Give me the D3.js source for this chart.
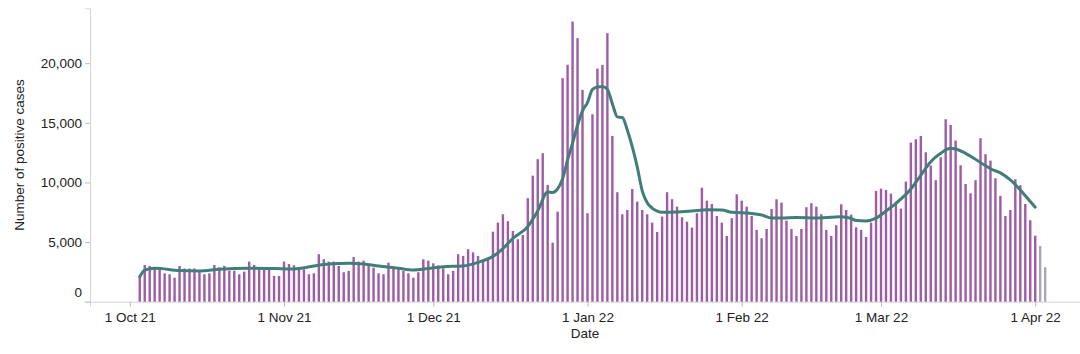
<!DOCTYPE html>
<html>
<head>
<meta charset="utf-8">
<script src="https://cdn.jsdelivr.net/npm/d3@7"></script>
<style>
  body { margin: 0; background: #fff; }
  text { font-family: "Liberation Sans", Arial, sans-serif; }
</style>
</head>
<body>
<div id="chart"></div>
<script>
// Data
const firstDate = "2021-10-03";
const dailyCases = [
  2100, 3080, 3000, 2800, 2660, 2380, 2300, 2010, 3000, 2780, 2780, 2780, 2520, 2300, 2380, 3080,
  2880, 3000, 2600, 2600, 2300, 2520, 3360, 3080, 2800, 2800, 2720, 2160, 2160, 3360, 3160,
  3050, 2720, 2720, 2300, 2380, 3980, 3560, 3360, 3360, 3000, 2470, 2580, 3750, 3360, 3440,
  3050, 2850, 2380, 2300, 3270, 2800, 2740, 2580, 2380, 2010, 2470, 3560, 3440, 3220, 3050,
  2800, 2300, 2580, 3980, 3840, 4400, 4140, 3840, 3360, 3500, 5870, 6630, 7330, 6750, 5930,
  5240, 5590, 8680, 10570, 11950, 12450, 9790, 4950, 7550, 18740, 19860, 23490, 22100, 17760,
  7420, 15720, 19550, 19860, 22520, 13900, 9180, 7330, 7690, 9450, 8390, 7690, 7330, 6630, 5850,
  7130, 9180, 8590, 7970, 7080, 6710, 6210, 7420, 9560, 8470, 8190, 7190, 6630, 5510, 7000,
  9010, 8470, 7970, 7190, 6020, 5320, 6100, 7780, 8590, 8310, 6800, 6100, 5510, 6100, 7920,
  8260, 7970, 7330, 6020, 5510, 6410, 8170, 7690, 7300, 6240, 6020, 5430, 6630, 9290, 9480,
  9370, 9060, 8310, 7800, 10070, 13340, 13620, 13900, 12530, 11410, 10190, 12110, 15300, 14820,
  13510, 11440, 9870, 9090, 10190, 13710, 12370, 11830, 10350, 8870, 7190, 7690, 10270, 9770,
  8200, 6830, 5540,
  4670, 2890
];
// the last days are still incomplete and drawn in grey
const provisionalDays = 2;

const avgDates = [
  "2021-10-03", "2021-10-04", "2021-10-06", "2021-10-11", "2021-10-15", "2021-10-19", "2021-10-25",
  "2021-10-30", "2021-11-03", "2021-11-07", "2021-11-10", "2021-11-14", "2021-11-17", "2021-11-20",
  "2021-11-24", "2021-11-27", "2021-11-30", "2021-12-03", "2021-12-07", "2021-12-10", "2021-12-13",
  "2021-12-15", "2021-12-17", "2021-12-20", "2021-12-22", "2021-12-24", "2021-12-25", "2021-12-26",
  "2021-12-27", "2021-12-28", "2021-12-29", "2021-12-30", "2021-12-31", "2022-01-01", "2022-01-02",
  "2022-01-03", "2022-01-04", "2022-01-05", "2022-01-06", "2022-01-07", "2022-01-08", "2022-01-09",
  "2022-01-10", "2022-01-11", "2022-01-12", "2022-01-13", "2022-01-14", "2022-01-15", "2022-01-16",
  "2022-01-19", "2022-01-22", "2022-01-25", "2022-01-28", "2022-01-30", "2022-02-03", "2022-02-05",
  "2022-02-07", "2022-02-09", "2022-02-12", "2022-02-16", "2022-02-19", "2022-02-21", "2022-02-23",
  "2022-02-24", "2022-02-26", "2022-02-28", "2022-03-02", "2022-03-04", "2022-03-07", "2022-03-09",
  "2022-03-11", "2022-03-13", "2022-03-15", "2022-03-16", "2022-03-19", "2022-03-22", "2022-03-23",
  "2022-03-25", "2022-03-27", "2022-03-29", "2022-03-31", "2022-04-01"
];
const avgCases = [
  2100, 2650, 2800, 2620, 2580, 2720, 2800,
  2780, 2750, 2990, 3160, 3220, 3160, 3000,
  2800, 2660, 2790, 2930, 3000, 3300, 3800,
  4450, 5300, 6300, 7600, 9200, 9150, 9450,
  10300, 11900, 13300, 14800, 16000, 16700, 17800,
  18000, 18050, 17800, 16600, 15500, 15450, 14400,
  13000, 11300, 9300, 8300, 7850, 7600, 7500,
  7530, 7610, 7700, 7680, 7500, 7400, 7270,
  7020, 7020, 7060, 7020, 7080, 7130, 6980,
  6800, 6770, 7000, 7600, 8250, 9450, 10600,
  11740, 12450, 12870, 12800, 12200, 11400, 11150,
  10800, 10210, 9370, 8400, 7920
];

const yTickValues = [0, 5000, 10000, 15000, 20000];
const xTickDates = ["2021-10-01", "2021-11-01", "2021-12-01", "2022-01-01", "2022-02-01", "2022-03-01", "2022-04-01"];
const xDomainDates = ["2021-09-23", "2022-04-10"];
const yMax = 24600;

function draw() {
  const parse = d3.utcParse("%Y-%m-%d");
  const start = parse(firstDate);
  const bars = dailyCases.map((v, i) => ({
    date: d3.utcDay.offset(start, i),
    value: v,
    provisional: i >= dailyCases.length - provisionalDays,
  }));
  const avg = avgDates.map((d, i) => ({ date: parse(d), value: avgCases[i] }));

  // Dimensions
  let dimensions = {
    width: 1080,
    height: 354,
    margin: { top: 8.3, bottom: 52.3, left: 90, right: 0 },
  };
  dimensions.containerWidth = dimensions.width - dimensions.margin.left - dimensions.margin.right;
  dimensions.containerHeight = dimensions.height - dimensions.margin.top - dimensions.margin.bottom;

  const svg = d3.select("#chart")
    .append("svg")
    .attr("width", dimensions.width)
    .attr("height", dimensions.height);

  const container = svg.append("g")
    .attr("transform", `translate(${dimensions.margin.left}, ${dimensions.margin.top})`);

  // Scales
  const xScale = d3.scaleUtc()
    .domain(xDomainDates.map(parse))
    .range([0, dimensions.containerWidth]);
  const yScale = d3.scaleLinear()
    .domain([0, yMax])
    .range([dimensions.containerHeight, 0]);

  // Axes
  const xAxis = d3.axisBottom(xScale)
    .tickValues(xTickDates.map(parse))
    .tickSize(5)
    .tickPadding(6)
    .tickFormat(d3.utcFormat("%-d %b %y"));
  const xAxisGroup = container.append("g")
    .attr("transform", `translate(0, ${dimensions.containerHeight})`)
    .call(xAxis);

  const yAxis = d3.axisLeft(yScale)
    .tickValues(yTickValues)
    .tickSize(5)
    .tickPadding(3)
    .tickFormat(d3.format(","));
  const yAxisGroup = container.append("g").call(yAxis);

  [xAxisGroup, yAxisGroup].forEach((g) => {
    g.select(".domain").attr("stroke", "#d4d4d4");
    g.selectAll(".tick line").attr("stroke", "#bdbdbd");
    g.selectAll(".tick text")
      .attr("fill", "#222")
      .style("font-size", "13.5px")
      .style("font-family", '"Liberation Sans", Arial, sans-serif');
  });
  // bottom label sits flush inside the axis
  yAxisGroup.selectAll(".tick text").filter((d) => d === 0).attr("dy", "-0.35em");

  // Bars
  const barWidth = 2.4;
  container.append("g")
    .selectAll("rect")
    .data(bars)
    .join("rect")
    .attr("x", (d) => xScale(d.date) - barWidth / 2)
    .attr("width", barWidth)
    .attr("y", (d) => yScale(d.value))
    .attr("height", (d) => yScale(0) - yScale(d.value))
    .attr("fill", (d) => (d.provisional ? "#aaa6b9" : "#9e5ca6"));

  // Rolling average
  const line = d3.line()
    .x((d) => xScale(d.date))
    .y((d) => yScale(d.value))
    .curve(d3.curveMonotoneX);
  container.append("path")
    .datum(avg)
    .attr("d", line)
    .attr("fill", "none")
    .attr("stroke", "#3f7e79")
    .attr("stroke-width", 3)
    .attr("stroke-linecap", "round")
    .attr("stroke-linejoin", "round");

  // Titles
  xAxisGroup.append("text")
    .attr("x", dimensions.containerWidth / 2)
    .attr("y", 36)
    .attr("fill", "#222")
    .attr("text-anchor", "middle")
    .style("font-size", "13.5px")
    .text("Date");

  yAxisGroup.append("text")
    .attr("transform", "rotate(-90)")
    .attr("x", -dimensions.containerHeight / 2)
    .attr("y", -66)
    .attr("fill", "#222")
    .attr("text-anchor", "middle")
    .style("font-size", "13.5px")
    .text("Number of positive cases");
}

draw();
</script>
</body>
</html>
